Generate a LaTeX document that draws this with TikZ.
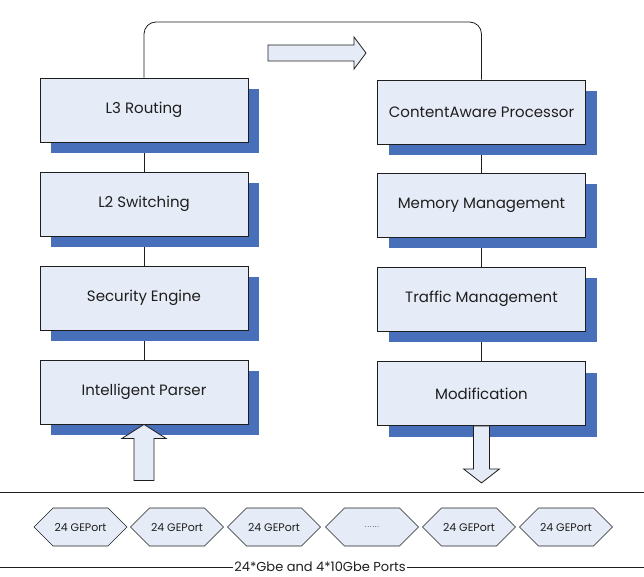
\documentclass[tikz,border=0pt]{standalone}
\usepackage{fontspec}
\setmainfont{Poppins}
\usetikzlibrary{shadows,shapes.symbols,backgrounds}
\definecolor{boxfill}{RGB}{230,236,247}
\definecolor{shadowblue}{RGB}{72,112,186}
\definecolor{ink}{RGB}{30,30,30}
\begin{document}
\begin{tikzpicture}[x=1pt,y=-1pt,
 blk/.style={draw=ink, line width=0.8pt, fill=boxfill, minimum width=208pt, minimum height=64pt, inner sep=0pt, text=ink, font=\fontsize{15}{17}\selectfont, general shadow={fill=shadowblue, shadow xshift=11pt, shadow yshift=-11pt}},
 port/.style={signal, signal to=east and west, signal pointer angle=90, draw=ink, line width=0.6pt, fill=boxfill, minimum width=93pt, minimum height=38pt, inner sep=0pt, text=ink, font=\fontsize{11}{13}\selectfont},
 link/.style={draw=ink, line width=0.8pt},
 fatarrow/.style={draw=ink, fill=boxfill, line width=0.8pt, line join=miter}]
\useasboundingbox (0,0) rectangle (644,577);
% left column
\node[blk] (l3) at (144,110) {L3 Routing};
\node[blk] (l2) at (144,204) {L2 Switching};
\node[blk] (se) at (144,298) {Security Engine};
\node[blk] (ip) at (144,392) {Intelligent Parser};
% right column
\node[blk] (ca) at (481.5,112) {ContentAware Processor};
\node[blk] (mm) at (481.5,205) {Memory Management};
\node[blk] (tm) at (481.5,299) {Traffic Management};
\node[blk] (mo) at (481.5,393.5) {Modification};
% connectors behind
\coordinate (topc) at (300,22);
\begin{scope}[on background layer]
\draw[link, rounded corners=12pt] (l3.north) |- (topc) -| (ca.north);
\draw[link] (l3.south) -- (l2.north);
\draw[link] (l2.south) -- (se.north);
\draw[link] (se.south) -- (ip.north);
\draw[link] (ca.south) -- (mm.north);
\draw[link] (mm.south) -- (tm.north);
\draw[link] (tm.south) -- (mo.north);
\end{scope}
% top right arrow
\coordinate (ra) at (268,45);
\draw[fatarrow] (ra) -- ++(86,0) -- ++(0,-8) -- ++(12,16) -- ++(-12,16) -- ++(0,-8) -- ++(-86,0) -- cycle;
% up arrow into parser
\draw[fatarrow] (ip.south) -- ++(22,14) -- ++(-12,0) -- ++(0,42) -- ++(-20,0) -- ++(0,-42) -- ++(-12,0) -- cycle;
% down arrow out of modification
\draw[fatarrow] ([xshift=-8pt]mo.south) -- ++(0,43) -- ++(-10,0) -- ++(18,14) -- ++(18,-14) -- ++(-10,0) -- ++(0,-43) -- cycle;
% port band
\coordinate (bl1) at (0,492);
\coordinate (br1) at (644,492);
\draw[link] (bl1) -- (br1);
\node[port] (p1) at (80.5,527) {24 GEPort};
\node[port] (p2) at (177,527) {24 GEPort};
\node[port] (p3) at (274,527) {24 GEPort};
\node[port] (p4) at (372,527) {\fontsize{7}{8}\selectfont .\kern1pt.\kern1pt.\kern1pt.\kern1pt.\kern1pt.};
\node[port] (p5) at (469,527) {24 GEPort};
\node[port] (p6) at (566,527) {24 GEPort};
\node[text=ink, inner sep=1pt, font=\fontsize{13}{15}\selectfont] (lbl) at (320,567) {24*Gbe and 4*10Gbe Ports};
\coordinate (bl2) at (0,567);
\coordinate (br2) at (644,567);
\draw[link] (bl2) -- (lbl.west);
\draw[link] (lbl.east) -- (br2);
\end{tikzpicture}
\end{document}
